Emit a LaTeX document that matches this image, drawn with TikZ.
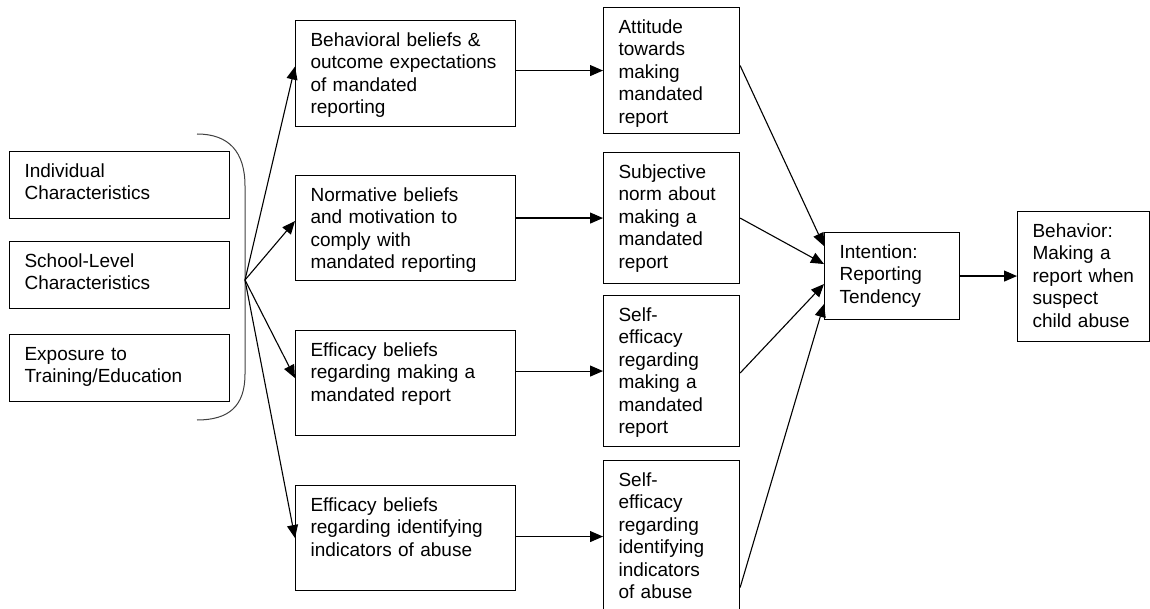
\documentclass[tikz,border=0pt]{standalone}
\usepackage{fontspec}
\setmainfont{Liberation Sans}
\usetikzlibrary{arrows.meta}

\begin{document}
\begin{tikzpicture}[x=1pt,y=-1pt]
\tikzstyle{every node}+=[inner sep=0pt]
\tikzstyle{box}=[draw=black, line width=1.1pt, anchor=north west, align=left, inner xsep=15pt, inner ysep=0pt, text height=25.6pt, font=\fontsize{19}{22.5}\selectfont]
\tikzstyle{arr}=[line width=1.1pt, -{Triangle[length=13pt,width=11pt]}]
\useasboundingbox (0,0) rectangle (1150,609);
\node [box, text width=190pt, text depth=41.4pt] (ind) at (9,151) {Individual\\Characteristics};
\node [box, text width=190pt, text depth=41.4pt] (school) at (9,241) {School-Level\\Characteristics};
\node [box, text width=190pt, text depth=41.4pt] (expo) at (9,334) {Exposure to\\Training/Education};
\draw [line width=1pt, black!75] (197,134) .. controls (229,134) and (245,152) .. (245,186) -- (245,374) .. controls (245,406) and (229,420) .. (197,420);
\coordinate (fan) at (245,280);
\node [box, text width=190pt, text depth=80.4pt] (behav) at (295,20) {Behavioral beliefs \&\\outcome expectations\\of mandated\\reporting};
\node [box, text width=190pt, text depth=79.4pt] (norm) at (295,175) {Normative beliefs\\and motivation to\\comply with\\mandated reporting};
\node [box, text width=190pt, text depth=79.4pt] (effmake) at (295,330) {Efficacy beliefs\\regarding making a\\mandated report};
\node [box, text width=190pt, text depth=79.4pt] (effident) at (295,485) {Efficacy beliefs\\regarding identifying\\indicators of abuse};
\node [box, text width=106pt, text depth=100.4pt] (att) at (603,7) {Attitude\\towards\\making\\mandated\\report};
\node [box, text width=106pt, text depth=105.4pt] (subj) at (603,152) {Subjective\\norm about\\making a\\mandated\\report};
\node [box, text width=106pt, text depth=125.4pt] (selfmake) at (603,295) {Self-\\efficacy\\regarding\\making a\\mandated\\report};
\node [box, text width=106pt, text depth=126.4pt] (selfident) at (603,460) {Self-\\efficacy\\regarding\\identifying\\indicators\\of abuse};
\node [box, text width=105pt, text depth=61.4pt] (intent) at (824,232) {Intention:\\Reporting\\Tendency};
\node [box, text width=102pt, text depth=104.4pt] (behavior) at (1017,211) {Behavior:\\Making a\\report when\\suspect\\child abuse};
\draw [arr] (fan) -- ([yshift=7pt]behav.west);
\draw [arr] (fan) -- ([yshift=7pt]norm.west);
\draw [arr] (fan) -- ([yshift=5pt]effmake.west);
\draw [arr] (fan) -- (effident.west);
\draw [arr] (behav.east |- att.west) -- (att.west);
\draw [arr] (norm.east |- subj.west) -- (subj.west);
\draw [arr] (effmake.east |- selfmake.west) -- (selfmake.west);
\draw [arr] (effident.east |- selfident.west) -- (selfident.west);
\draw [arr] ([yshift=5pt]att.east) -- ([yshift=30pt]intent.west);
\draw [arr] (subj.east) -- ([yshift=12pt]intent.west);
\draw [arr] ([yshift=-2pt]selfmake.east) -- ([yshift=-8pt]intent.west);
\draw [arr] ([yshift=-51pt]selfident.east) -- ([yshift=-28pt]intent.west);
\draw [arr] (intent.east) -- (behavior.west |- intent.east);
\end{tikzpicture}
\end{document}
